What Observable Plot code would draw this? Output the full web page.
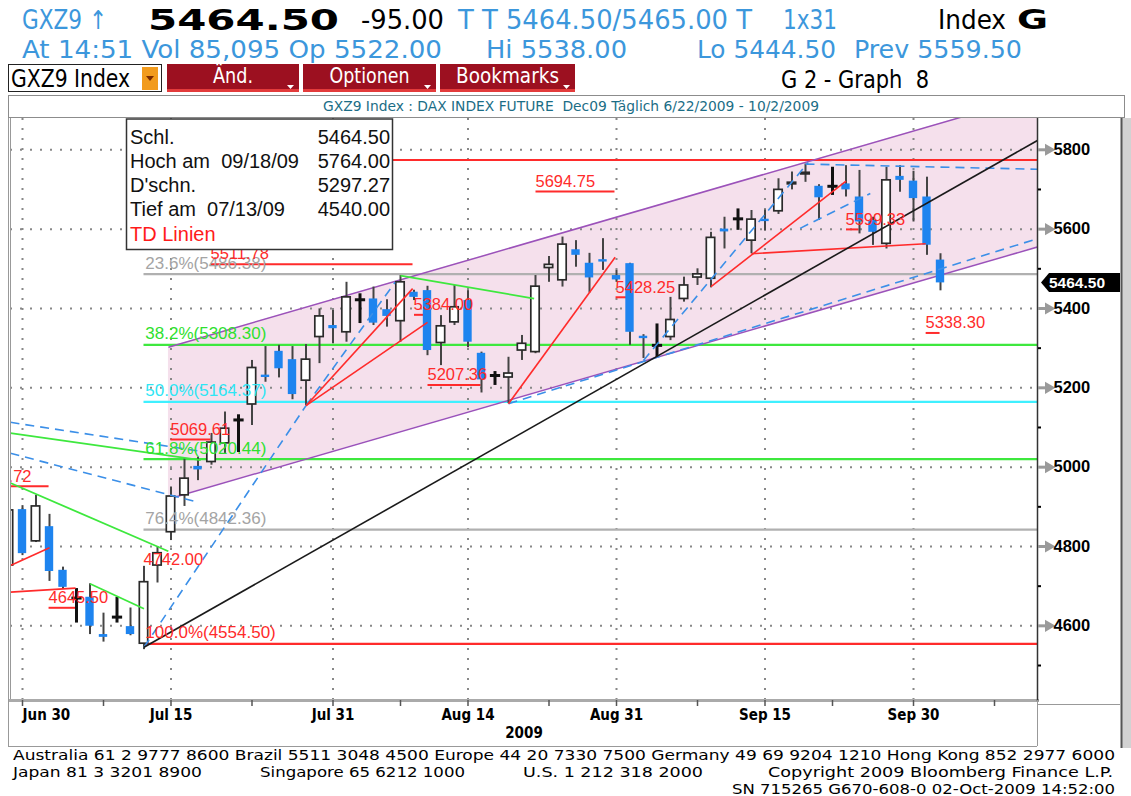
<!DOCTYPE html>
<html><head><meta charset="utf-8">
<script src="https://cdn.jsdelivr.net/npm/d3@7"></script>
<script src="https://cdn.jsdelivr.net/npm/@observablehq/plot@0.6"></script>
<style>
body{margin:0;background:#fff;}
#page{position:relative;width:1131px;height:796px;overflow:hidden;background:#fff;}
#chart{position:absolute;left:0;top:118px;}
#overlay{position:absolute;left:0;top:0;}
</style></head>
<body><div id="page"><div id="chart"></div><svg id="overlay" width="1131" height="796"></svg></div>
<script>
// ---------------- DATA ----------------
const dates = ["2009-06-29","2009-06-30","2009-07-01","2009-07-02","2009-07-03","2009-07-06","2009-07-07","2009-07-08","2009-07-09","2009-07-10","2009-07-13","2009-07-14","2009-07-15","2009-07-16","2009-07-17","2009-07-20","2009-07-21","2009-07-22","2009-07-23","2009-07-24","2009-07-27","2009-07-28","2009-07-29","2009-07-30","2009-07-31","2009-08-03","2009-08-04","2009-08-05","2009-08-06","2009-08-07","2009-08-10","2009-08-11","2009-08-12","2009-08-13","2009-08-14","2009-08-17","2009-08-18","2009-08-19","2009-08-20","2009-08-21","2009-08-24","2009-08-25","2009-08-26","2009-08-27","2009-08-28","2009-08-31","2009-09-01","2009-09-02","2009-09-03","2009-09-04","2009-09-07","2009-09-08","2009-09-09","2009-09-10","2009-09-11","2009-09-14","2009-09-15","2009-09-16","2009-09-17","2009-09-18","2009-09-21","2009-09-22","2009-09-23","2009-09-24","2009-09-25","2009-09-28","2009-09-29","2009-09-30","2009-10-01","2009-10-02"];
const opens  = [4752,4893,4813,4850,4740,4670,4672,4578,4622,4598,4555,4752,4836,4929,5002,5013,5060,5119,5158,5232,5292,5271,5218,5328,5357,5340,5422,5424,5397,5368,5441,5445,5313,5365,5420,5287,5231,5226,5294,5290,5502,5471,5548,5514,5523,5483,5513,5330,5307,5328,5424,5478,5475,5600,5626,5571,5625,5645,5713,5738,5708,5708,5714,5681,5622,5563,5733,5721,5681,5522];
const highs  = [4905,4903,4929,4881,4748,4694,4706,4632,4672,4645,4750,4800,4950,5021,5025,5085,5139,5132,5269,5304,5307,5304,5309,5399,5395,5466,5437,5454,5422,5483,5446,5456,5382,5458,5445,5290,5241,5277,5332,5483,5531,5580,5571,5539,5576,5496,5514,5334,5361,5428,5479,5500,5592,5630,5651,5647,5648,5727,5744,5764,5712,5756,5760,5748,5630,5756,5760,5746,5731,5538];
const lows   = [4745,4777,4810,4712,4692,4607,4578,4559,4607,4575,4540,4708,4815,4901,4966,5005,5034,5037,5105,5214,5225,5170,5155,5261,5311,5315,5362,5357,5353,5315,5420,5281,5256,5357,5301,5187,5206,5160,5269,5286,5466,5454,5504,5439,5496,5466,5307,5274,5277,5319,5416,5458,5452,5550,5597,5538,5595,5637,5699,5718,5622,5685,5681,5588,5559,5550,5693,5618,5534,5444.5];
const closes = [4891,4782,4901,4737,4697,4670,4599,4571,4622,4578,4710,4783,4926,4971,4993,5062,5097,5119,5250,5226,5248,5183,5271,5380,5349,5428,5422,5363,5380,5466,5428,5294,5355,5403,5315,5220,5231,5236,5311,5455,5510,5561,5534,5477,5517,5472,5340,5324,5307,5371,5458,5486,5578,5593,5626,5624,5619,5699,5717,5742,5679,5708,5699,5618,5592,5723,5723,5677,5559.5,5464.5];
const lastPrice = 5464.50;

// x axis: session index (0 = first listed date)
const xLabelDates = ["2009-06-30","2009-07-15","2009-07-31","2009-08-14","2009-08-31","2009-09-15","2009-09-30"];
const xLabels     = ["Jun 30","Jul 15","Jul 31","Aug 14","Aug 31","Sep 15","Sep 30"];
const xMinorTicks = [7,18,29,40,51,61,73];
const yLabelTicks = [4600,4800,5000,5200,5400,5600,5800];
const yMinorTicks = [4500,4700,4900,5100,5300,5500,5700];

// Fibonacci retracement (from 07/13/09 low); the 0.0% label sits under the info box
const fibPct  = ["100.0%","76.4%","61.8%","50.0%","38.2%","23.6%"];
const fibVals = [4554.50,4842.36,5020.44,5164.37,5308.30,5486.38];
const fibZero = 5774.24;
const fibStart = 10, fibLabelAt = 10.1;

// TD levels: value, label session, underline from / to
const tdVals     = [5694.75,5384.00,5207.36,5428.25,5599.33,5338.30,5069.61,4742.00,4645.50,5511.78];
const tdTextAt   = [39.0,29.96,31.0,44.93,61.96,67.89,11.96,9.96,2.93,14.93];
const tdLineFrom = [39.0,30.0,31.0,44.93,62.0,67.9,11.96,9.96,2.93,14.93];
const tdLineTo   = [44.85,30.85,34.93,45.89,62.93,68.93,14.93,9.96,4.93,29.89];
const tdCutVal = 4951.72, tdCutAt = 1.67, tdCutFrom = 0.11, tdCutTo = 2.93;

// line segments [session1, price1, session2, price2]
const tdRedLines = [[0.11,4752,3,4797],[0.11,4685,4.93,4695],[22,5155,29.9,5450],[22,5155,31,5365],[37,5160,44.9,5529],[52,5455,62,5721],[55,5538,67.9,5563]];
const greenLines = [[0.11,4960,11.8,4788],[0.11,5086,14.2,5018],[6,4706,10,4643],[29,5483,38.9,5425]];
const blueDashed = [[0.11,5113,14.2,5040],[0.11,5035,13.94,4912],[10,4546,22,5155],[22,5155,28.6,5466],[37,5160,76.185,5576],[47,5269,59.2,5768],[59,5764,76.185,5751],[58.6,5602,63.8,5690]];
const blackTrend = [[10,4546,76.185,5823.5]];
const channelT = [11.81,76.185];
const channelUpper = [5302.5,5938];
const channelLower = [4919.8,5555];

// ---------------- CHART ----------------
const X0 = 0.111, X1 = 76.185;
const idx = d3.range(dates.length);
const up = idx.filter(i => closes[i] > opens[i]);
const dn = idx.filter(i => closes[i] < opens[i]);
const dj = idx.filter(i => closes[i] === opens[i]);
const nd = idx.filter(i => closes[i] !== opens[i]);
const bw = 0.31;
const xLabelIdx = xLabelDates.map(d => dates.indexOf(d));
const xAllTicks = [...xLabelIdx, ...xMinorTicks];
const labelOf = new Map(xLabelIdx.map((t, i) => [t, xLabels[i]]));

const RED = "#ff2b2b", GREEN = "#3ee83e", BLUE = "#3b8fe8", PURPLE = "#9b52ba";
const fibColors = ["#ff2b2b","#b0b0b0","#3ee83e","#3ff0ff","#3ee83e","#b0b0b0"];
const fibText   = ["#ff2b2b","#a4a4a4","#2fe02f","#2fe6f5","#2fe02f","#a4a4a4"];
const AXF = "'DejaVu Sans Condensed','DejaVu Sans',sans-serif";

const seg = (data, o) => Plot.link(data, {x1: d => d[0], y1: d => d[1], x2: d => d[2], y2: d => d[3], clip: true, ...o});

function priceTag(index, scales, values, dims) {
  const y = scales.y(lastPrice);
  const x = dims.width - dims.marginRight;
  const g = d3.create("svg:g");
  g.append("path").attr("d", `M${x+4},${y} L${x+12},${y-9.5} H${x+83} V${y+9.5} H${x+12} Z`).attr("fill", "#000");
  g.append("text").attr("x", x+12).attr("y", y).attr("dy", "0.36em").attr("fill", "#fff")
    .attr("text-anchor", "start").attr("font-weight", "bold").attr("font-size", 15.5).text(lastPrice.toFixed(2));
  return g.node();
}

const chart = Plot.plot({
  width: 1131, height: 632,
  marginLeft: 10, marginRight: 94, marginTop: 0, marginBottom: 50,
  x: {type: "linear", domain: [X0, X1]},
  y: {type: "linear", domain: [4411.8, 5878.9]},
  style: {fontFamily: "'Liberation Sans', Arial, sans-serif", background: "white"},
  marks: [
    Plot.areaY([0, 1], {x: i => channelT[i], y1: i => channelLower[i], y2: i => channelUpper[i], fill: "#f5e0ec", clip: true}),
    Plot.gridY(yLabelTicks, {stroke: "#888", strokeOpacity: 1, strokeWidth: 2, strokeDasharray: "2,8"}),
    Plot.gridX(xLabelIdx, {stroke: "#888", strokeOpacity: 1, strokeWidth: 2, strokeDasharray: "2,8"}),
    ...fibVals.map((v, i) => Plot.ruleY([v], {y: d => d, x1: () => fibStart, x2: () => X1, stroke: fibColors[i], strokeWidth: 2.2})),
    Plot.ruleY([fibZero], {y: d => d, x1: () => fibStart, x2: () => X1, stroke: RED, strokeWidth: 2.2}),
    Plot.link([0, 1], {x1: () => channelT[0], x2: () => channelT[1], y1: i => [channelUpper, channelLower][i][0], y2: i => [channelUpper, channelLower][i][1], stroke: PURPLE, strokeWidth: 1.5, clip: true}),
    Plot.link(tdVals.map((v, i) => i), {x1: i => tdLineFrom[i], x2: i => tdLineTo[i], y1: i => tdVals[i], y2: i => tdVals[i], stroke: RED, strokeWidth: 2, clip: true}),
    Plot.link([0], {x1: () => tdCutFrom, x2: () => tdCutTo, y1: () => tdCutVal, y2: () => tdCutVal, stroke: RED, strokeWidth: 2, clip: true}),
    // candles
    Plot.ruleX(nd, {x: i => i, y1: i => lows[i], y2: i => highs[i], stroke: "#444", strokeWidth: 2, clip: true}),
    Plot.rect(up, {x1: i => i - bw, x2: i => i + bw, y1: i => opens[i], y2: i => closes[i], fill: "white", stroke: "#2a2a2a", strokeWidth: 1.7, clip: true}),
    Plot.rect(dn, {x1: i => i - bw, x2: i => i + bw, y1: i => opens[i], y2: i => closes[i], fill: "#1e84ef", clip: true}),
    Plot.ruleX(dj, {x: i => i, y1: i => lows[i], y2: i => highs[i], stroke: "#111", strokeWidth: 3, clip: true}),
    Plot.link(dj, {x1: i => i - 0.38, x2: i => i + 0.38, y1: i => opens[i], y2: i => opens[i], stroke: "#111", strokeWidth: 3, clip: true}),
    // study lines
    seg(greenLines, {stroke: GREEN, strokeWidth: 1.8}),
    seg(blueDashed, {stroke: BLUE, strokeWidth: 1.6, strokeDasharray: "9,6"}),
    seg(tdRedLines, {stroke: RED, strokeWidth: 1.6}),
    seg(blackTrend, {stroke: "#1a1a1a", strokeWidth: 1.6}),
    // labels
    ...fibVals.map((v, i) => Plot.text([v], {x: () => fibLabelAt, y: d => d, text: d => `${fibPct[i]}(${d.toFixed(2)})`, textAnchor: "start", dy: -11, fill: fibText[i], fontSize: 17})),
    Plot.text(tdVals.map((v, i) => i), {x: i => tdTextAt[i], y: i => tdVals[i], text: i => tdVals[i].toFixed(2), textAnchor: "start", dy: -10, fill: RED, fontSize: 16.5, clip: true}),
    Plot.text([tdCutVal], {x: () => tdCutAt, y: d => d, text: d => d.toFixed(2), textAnchor: "end", dy: -10, fill: RED, fontSize: 16.5, clip: true}),
    // frame & axes
    Plot.frame({anchor: "left", stroke: "#999"}),
    Plot.frame({anchor: "bottom", stroke: "#aaa", strokeWidth: 3}),
    Plot.frame({anchor: "right", stroke: "#333", strokeWidth: 1.5}),
    Plot.axisY(yLabelTicks, {anchor: "right", tickSize: 9, tickFormat: () => "", stroke: "#9a9a9a", strokeWidth: 3, label: null}),
    Plot.dot(yLabelTicks, {y: d => d, frameAnchor: "right", dx: 11, symbol: "triangle", rotate: 90, r: 4.5, fill: "#9a9a9a"}),
    Plot.axisY(yMinorTicks, {anchor: "right", tickSize: 3, tickFormat: () => "", stroke: "#000", strokeWidth: 2, label: null}),
    Plot.axisY(yLabelTicks, {anchor: "right", tickSize: 0, tickPadding: 16, tickFormat: d => String(d), fontWeight: "bold", fontSize: 16.5, fill: "#000", label: null}),
    Plot.axisX(xAllTicks, {anchor: "bottom", tickSize: 6, tickFormat: () => "", stroke: "#555", strokeWidth: 1.5, label: null}),
    Plot.axisX(xLabelIdx.slice(0, 1), {anchor: "bottom", tickSize: 0, tickPadding: 9, tickFormat: t => labelOf.get(t), textAnchor: "start", fontWeight: "bold", fontSize: 15, fontFamily: AXF, fill: "#000", label: null}),
    Plot.axisX(xLabelIdx.slice(1), {anchor: "bottom", tickSize: 0, tickPadding: 9, tickFormat: t => labelOf.get(t), fontWeight: "bold", fontSize: 15, fontFamily: AXF, fill: "#000", label: null}),
    Plot.text(["2009"], {text: d => d, frameAnchor: "bottom", dy: 37, fontWeight: "bold", fontSize: 15, fontFamily: AXF}),
    priceTag
  ]
});
document.getElementById("chart").append(chart);

// ---------------- HEADER / BOX / FOOTER ----------------
const ov = d3.select("#overlay");
const COND = "'DejaVu Sans Condensed','DejaVu Sans',sans-serif";
const HB = "#3c97dc";
function txt(s, x, y, size, len, fill, opts = {}) {
  const t = ov.append("text").attr("x", x).attr("y", y).attr("font-size", size)
    .attr("font-family", opts.family || COND).attr("fill", fill).style("white-space", "pre").text(s);
  if (len) t.attr("textLength", len).attr("lengthAdjust", "spacingAndGlyphs");
  if (opts.weight) t.attr("font-weight", opts.weight);
  if (opts.anchor) t.attr("text-anchor", opts.anchor);
  return t;
}
// row 1
txt("GXZ9 \u2191", 22, 29, 26, 85, HB);
txt("5464.50", 148, 29.5, 29, 191, "#000", {weight: "bold", family: "'DejaVu Sans',sans-serif"});
txt("-95.00", 361, 29, 26, 83, "#000");
txt("T T 5464.50/5465.00 T", 458, 29, 26, 294, HB);
txt("1x31", 783, 29, 26, 54, HB);
txt("Index", 938, 29, 26, 68, "#000");
txt("G", 1017, 29, 27, 31, "#000", {weight: "bold"});
// row 2
txt("At 14:51 Vol 85,095 Op 5522.00", 22, 58, 25, 420, HB);
txt("Hi 5538.00", 486, 58, 25, 141, HB);
txt("Lo 5444.50", 697, 58, 25, 139, HB);
txt("Prev 5559.50", 854, 58, 25, 168, HB);
// row 3
ov.append("rect").attr("x", 8.5).attr("y", 64.5).attr("width", 153).attr("height", 27).attr("fill", "#fff").attr("stroke", "#222");
txt("GXZ9 Index", 11, 87, 24, 119, "#000");
ov.append("rect").attr("x", 142).attr("y", 67).attr("width", 16).attr("height", 23).attr("fill", "#f29b1d");
ov.append("path").attr("d", "M146,76 L154,76 L150,81 Z").attr("fill", "#7a2a00");
[[167, 299, "Änd.", 40], [303, 436, "Optionen", 80], [440, 575, "Bookmarks", 103]].forEach(([a, b, s, w]) => {
  ov.append("rect").attr("x", a).attr("y", 64).attr("width", b - a).attr("height", 25).attr("fill", "#9c1020");
  ov.append("rect").attr("x", a).attr("y", 89).attr("width", b - a).attr("height", 3).attr("fill", "#e33b3b");
  txt(s, (a + b) / 2 - w / 2, 83, 21, w, "#fff");
  ov.append("path").attr("d", `M${b-12},85 L${b-5},85 L${b-8.5},89 Z`).attr("fill", "#fff");
});
txt("G 2 - Graph  8", 781, 88, 24, 148, "#000");
// title bar
ov.append("rect").attr("x", 8.5).attr("y", 95.5).attr("width", 1116).attr("height", 22).attr("fill", "#fff").attr("stroke", "#8c8c8c");
txt("GXZ9 Index : DAX INDEX FUTURE  Dec09 Täglich 6/22/2009 - 10/2/2009", 323, 111, 13.5, 496, "#1b6d86");
// frame lines
ov.append("line").attr("x1", 8.5).attr("x2", 8.5).attr("y1", 118).attr("y2", 746).attr("stroke", "#999");
ov.append("line").attr("x1", 8).attr("x2", 1037).attr("y1", 746.5).attr("y2", 746.5).attr("stroke", "#999");
ov.append("line").attr("x1", 1037.5).attr("x2", 1037.5).attr("y1", 700).attr("y2", 746).attr("stroke", "#999");
ov.append("line").attr("x1", 1037).attr("x2", 1120).attr("y1", 704.5).attr("y2", 704.5).attr("stroke", "#999");
ov.append("rect").attr("x", 1121).attr("y", 118).attr("width", 10).attr("height", 630).attr("fill", "#d2d2d2");
ov.append("line").attr("x1", 1121.5).attr("x2", 1121.5).attr("y1", 118).attr("y2", 748).attr("stroke", "#555").attr("stroke-width", 2);
// info box
ov.append("rect").attr("x", 126.5).attr("y", 119).attr("width", 266).attr("height", 130.5).attr("fill", "#fff").attr("stroke", "#333").attr("stroke-width", 1.5);
const BF = "'Liberation Sans',Arial,sans-serif";
[["Schl.", "5464.50"], ["Hoch am  09/18/09", "5764.00"], ["D'schn.", "5297.27"], ["Tief am  07/13/09", "4540.00"]].forEach(([l, r], i) => {
  txt(l, 130, 144 + i * 24, 20, null, "#111", {family: BF});
  txt(r, 390, 144 + i * 24, 20, null, "#111", {family: BF, anchor: "end"});
});
txt("TD Linien", 130, 241, 20, null, "#ff1a1a", {family: BF});
// footer
txt("Australia 61 2 9777 8600 Brazil 5511 3048 4500 Europe 44 20 7330 7500 Germany 49 69 9204 1210 Hong Kong 852 2977 6000", 13, 760, 14, 1102, "#000");
txt("Japan 81 3 3201 8900", 13, 777, 14, 189, "#000");
txt("Singapore 65 6212 1000", 260, 777, 14, 205, "#000");
txt("U.S. 1 212 318 2000", 523, 777, 14, 180, "#000");
txt("Copyright 2009 Bloomberg Finance L.P.", 768, 777, 14, 345, "#000");
txt("SN 715265 G670-608-0 02-Oct-2009 14:52:00", 732, 794, 14, 383, "#000");
</script></body></html>
